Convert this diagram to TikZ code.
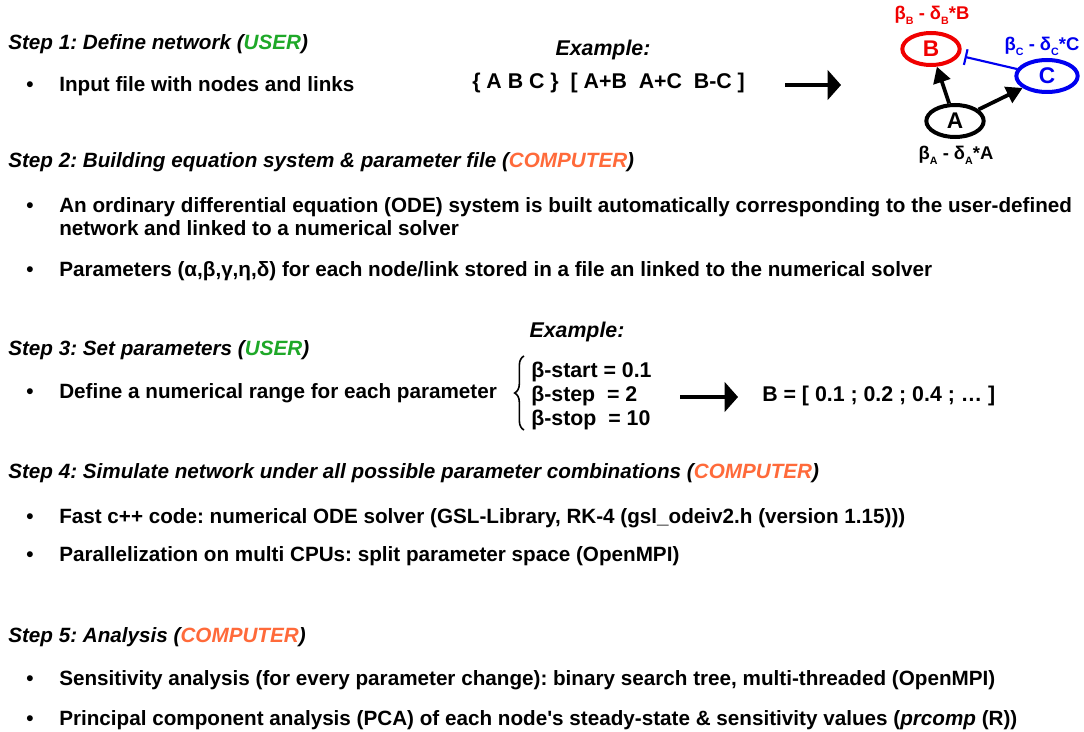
\documentclass[tikz,border=0pt]{standalone}
\usepackage{fontspec}
\setmainfont{Liberation Sans}
\usetikzlibrary{arrows.meta,shapes.geometric,decorations.pathreplacing}
\definecolor{usergreen}{RGB}{30,168,40}
\definecolor{comporange}{RGB}{255,106,58}
\definecolor{nred}{RGB}{240,0,0}
\definecolor{nblue}{RGB}{0,0,240}
\newcommand{\sbs}[1]{{\fontsize{8pt}{8pt}\selectfont\raisebox{-3.5pt}{#1}}}
\frenchspacing
\begin{document}
\begin{tikzpicture}[x=0.75pt,y=-0.75pt,
  txt/.style={anchor=base west,inner sep=0pt,font=\fontsize{15.5pt}{18pt}\selectfont\bfseries},
  head/.style={txt,font=\fontsize{15.5pt}{18pt}\selectfont\bfseries\itshape},
  bul/.style={anchor=base,inner sep=0pt,font=\fontsize{15.5pt}{18pt}\selectfont\bfseries},
  ex/.style={anchor=base west,inner sep=0pt,font=\fontsize{16pt}{18pt}\selectfont\bfseries},
  exh/.style={anchor=base,inner sep=0pt,font=\fontsize{16pt}{18pt}\selectfont\bfseries\itshape},
  bigarrow/.style={line width=3pt,-{Triangle[length=10pt,width=22pt]}},
  netnode/.style={ellipse,draw,line width=3pt,minimum width=43pt,minimum height=24pt,inner sep=0pt,font=\fontsize{17pt}{18pt}\selectfont\bfseries},
  netlab/.style={inner sep=0pt,anchor=base,font=\fontsize{13.8pt}{15pt}\selectfont\bfseries},
  netarrow/.style={line width=2.8pt,-{Triangle[length=12pt,width=13pt]}}
]
\useasboundingbox (0,0) rectangle (1084,731);

% Step 1
\node[head] (s1) at (8,50) {Step 1: Define network (\textcolor{usergreen}{USER})};
\node[bul] (b1) at (30,92) {•};
\node[txt] (t1) at (59,92) {Input file with nodes and links};
\node[exh] (ex1) at (603,56) {Example:};
\node[ex] (net) at (472,89) {\{ A B C \}\ \ [ A+B\ \ A+C\ \ B-C ]};
\coordinate (a1s) at (785,85);
\coordinate (a1e) at (841,85);
\draw[bigarrow] (a1s) -- (a1e);

% network
\node[netnode,draw=nred,text=nred] (B) at (931,49) {B};
\node[netnode,draw=nblue,text=nblue,minimum width=46pt] (C) at (1047,76) {C};
\node[netnode] (A) at (955,121) {A};
\node[netlab,text=nred] (lb) at (932,20) {β\sbs{B} - δ\sbs{B}*B};
\node[netlab,text=nblue] (lc) at (1042,51) {β\sbs{C} - δ\sbs{C}*C};
\node[netlab] (la) at (956,160) {β\sbs{A} - δ\sbs{A}*A};
\draw[netarrow] (A) -- (B);
\draw[netarrow] (A) -- (C);
\draw[nblue,line width=1.6pt,-{Bar[width=12pt]},shorten >=4pt] (C) -- (B);

% Step 2
\node[head] (s2) at (8,167) {Step 2: Building equation system \& parameter file (\textcolor{comporange}{COMPUTER})};
\node[bul] (b2) at (30,212) {•};
\node[txt] (t2a) at (59,212) {An ordinary differential equation (ODE) system is built automatically corresponding to the user-defined};
\node[txt] (t2b) at (59,235) {network and linked to a numerical solver};
\node[bul] (b3) at (30,276) {•};
\node[txt] (t3) at (59,276) {Parameters (α,β,γ,η,δ) for each node/link stored in a file an linked to the numerical solver};

% Step 3
\node[exh] (ex2) at (577,337) {Example:};
\node[head] (s3) at (8,355) {Step 3: Set parameters (\textcolor{usergreen}{USER})};
\node[bul] (b4) at (30,398) {•};
\node[txt] (t4) at (59,398) {Define a numerical range for each parameter};
\coordinate (brb) at (524,430);
\coordinate (brt) at (524,356);
\draw[line width=1.2pt,decorate,decoration={brace,amplitude=7pt}] (brb) -- (brt);
\node[ex] (p1) at (531,377) {β-start = 0.1};
\node[ex] (p2) at (531,401) {β-step\ \ = 2};
\node[ex] (p3) at (531,425) {β-stop\ \ = 10};
\coordinate (a2s) at (680,397);
\coordinate (a2e) at (738,397);
\draw[bigarrow] (a2s) -- (a2e);
\node[ex] (res) at (762,401) {B = [ 0.1 ; 0.2 ; 0.4 ; … ]};

% Step 4
\node[head] (s4) at (8,478) {Step 4: Simulate network under all possible parameter combinations (\textcolor{comporange}{COMPUTER})};
\node[bul] (b5) at (30,523) {•};
\node[txt] (t5) at (59,523) {Fast c++ code: numerical ODE solver (GSL-Library, RK-4 (gsl\_odeiv2.h (version 1.15)))};
\node[bul] (b6) at (30,561) {•};
\node[txt] (t6) at (59,561) {Parallelization on multi CPUs: split parameter space (OpenMPI)};

% Step 5
\node[head] (s5) at (8,642) {Step 5: Analysis (\textcolor{comporange}{COMPUTER})};
\node[bul] (b7) at (30,685) {•};
\node[txt] (t7) at (59,685) {Sensitivity analysis (for every parameter change): binary search tree, multi-threaded (OpenMPI)};
\node[bul] (b8) at (30,725) {•};
\node[txt] (t8) at (59,725) {Principal component analysis (PCA) of each node\textquotesingle s steady-state \& sensitivity values (\textit{prcomp} (R))};
\end{tikzpicture}
\end{document}
